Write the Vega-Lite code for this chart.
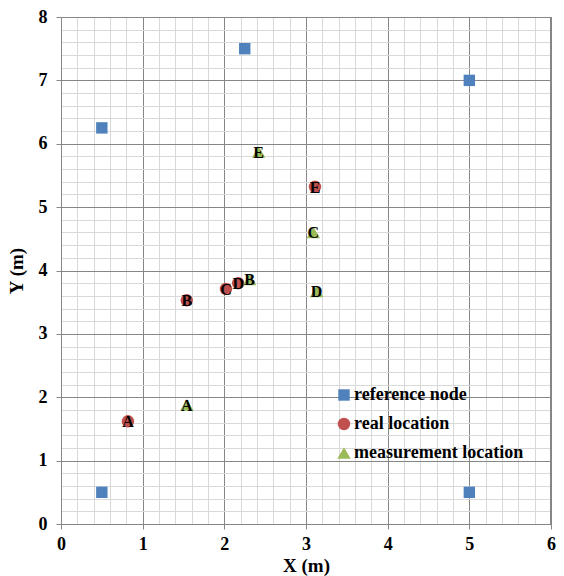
{
  "$schema": "https://vega.github.io/schema/vega-lite/v6.json",
  "width": 490,
  "height": 507,
  "autosize": {"type": "none"},
  "padding": {"left": 61, "top": 17, "right": 13, "bottom": 52},
  "background": "white",
  "config": {
    "font": "Liberation Serif",
    "view": {"stroke": null},
    "axis": {
      "labelFont": "Liberation Serif",
      "labelFontSize": 18,
      "labelFontWeight": "bold",
      "labelColor": "black",
      "titleFont": "Liberation Serif",
      "titleFontSize": 19,
      "titleFontWeight": "bold",
      "titleColor": "black",
      "domainColor": "#868686",
      "domainWidth": 1,
      "tickSize": 5,
      "gridWidth": 1,
      "gridOpacity": 1
    },
    "legend": {
      "labelFont": "Liberation Serif",
      "labelFontSize": 18,
      "labelFontWeight": "bold",
      "labelColor": "black",
      "labelLimit": 400
    }
  },
  "data": {
    "values": [
      {"type": "reference node", "label": "", "x": 0.5, "y": 0.5},
      {"type": "reference node", "label": "", "x": 0.5, "y": 6.25},
      {"type": "reference node", "label": "", "x": 2.25, "y": 7.5},
      {"type": "reference node", "label": "", "x": 5, "y": 7},
      {"type": "reference node", "label": "", "x": 5, "y": 0.5},
      {"type": "real location", "label": "A", "x": 0.82, "y": 1.62},
      {"type": "real location", "label": "B", "x": 1.54, "y": 3.53},
      {"type": "real location", "label": "C", "x": 2.02, "y": 3.71},
      {"type": "real location", "label": "D", "x": 2.17, "y": 3.8},
      {"type": "real location", "label": "E", "x": 3.11, "y": 5.32},
      {"type": "measurement location", "label": "A", "x": 1.54, "y": 1.88},
      {"type": "measurement location", "label": "B", "x": 2.31, "y": 3.86},
      {"type": "measurement location", "label": "C", "x": 3.09, "y": 4.6},
      {"type": "measurement location", "label": "D", "x": 3.13, "y": 3.67},
      {"type": "measurement location", "label": "E", "x": 2.42, "y": 5.87}
    ]
  },
  "encoding": {
    "x": {
      "field": "x",
      "type": "quantitative",
      "scale": {"domain": [0, 6], "nice": false, "zero": false},
      "axis": {
        "title": "X (m)",
        "titlePadding": 3,
        "labelPadding": 6,
        "values": [0, 0.2, 0.4, 0.6, 0.8, 1, 1.2, 1.4, 1.6, 1.8, 2, 2.2, 2.4, 2.6, 2.8, 3, 3.2, 3.4, 3.6, 3.8, 4, 4.2, 4.4, 4.6, 4.8, 5, 5.2, 5.4, 5.6, 5.8, 6],
        "labelExpr": "datum.value % 1 === 0 ? format(datum.value, 'd') : ''",
        "grid": true,
        "gridColor": {"condition": {"test": "datum.value % 1 === 0", "value": "#868686"}, "value": "#d9d9d9"},
        "tickColor": {"condition": {"test": "datum.value % 1 === 0", "value": "#868686"}, "value": "transparent"},
        "labelFlush": false,
        "labelOverlap": false
      }
    },
    "y": {
      "field": "y",
      "type": "quantitative",
      "scale": {"domain": [0, 8], "nice": false, "zero": false},
      "axis": {
        "title": "Y (m)",
        "titlePadding": 12,
        "labelPadding": 9,
        "values": [0, 0.2, 0.4, 0.6, 0.8, 1, 1.2, 1.4, 1.6, 1.8, 2, 2.2, 2.4, 2.6, 2.8, 3, 3.2, 3.4, 3.6, 3.8, 4, 4.2, 4.4, 4.6, 4.8, 5, 5.2, 5.4, 5.6, 5.8, 6, 6.2, 6.4, 6.6, 6.8, 7, 7.2, 7.4, 7.6, 7.8, 8],
        "labelExpr": "datum.value % 1 === 0 ? format(datum.value, 'd') : ''",
        "grid": true,
        "gridColor": {"condition": {"test": "datum.value % 1 === 0", "value": "#868686"}, "value": "#d9d9d9"},
        "tickColor": {"condition": {"test": "datum.value % 1 === 0", "value": "#868686"}, "value": "transparent"},
        "labelFlush": false,
        "labelOverlap": false
      }
    }
  },
  "layer": [
    {
      "mark": {"type": "rule", "color": "#868686", "strokeWidth": 1},
      "encoding": {
        "x": {"datum": 6},
        "y": null
      }
    },
    {
      "mark": {"type": "point", "filled": true, "opacity": 1},
      "encoding": {
        "shape": {
          "field": "type",
          "type": "nominal",
          "scale": {"domain": ["reference node", "real location", "measurement location"], "range": ["square", "circle", "triangle-up"]},
          "legend": {
            "title": null,
            "orient": "none",
            "legendX": 274,
            "legendY": 369,
            "labelOffset": 1,
            "rowPadding": 11,
            "symbolStrokeWidth": 0
          }
        },
        "color": {
          "field": "type",
          "type": "nominal",
          "scale": {"domain": ["reference node", "real location", "measurement location"], "range": ["#4F81BD", "#C0504D", "#9BBB59"]},
          "legend": {
            "title": null,
            "orient": "none",
            "legendX": 274,
            "legendY": 369,
            "labelOffset": 1,
            "rowPadding": 11,
            "symbolStrokeWidth": 0
          }
        },
        "size": {
          "field": "type",
          "type": "nominal",
          "scale": {"domain": ["reference node", "real location", "measurement location"], "range": [130, 180, 190]},
          "legend": {
            "title": null,
            "orient": "none",
            "legendX": 274,
            "legendY": 369,
            "labelOffset": 1,
            "rowPadding": 11,
            "symbolStrokeWidth": 0
          }
        }
      }
    },
    {
      "transform": [{"filter": "datum.label !== ''"}],
      "mark": {"type": "text", "font": "Liberation Serif", "fontSize": 16, "fontWeight": "bold", "color": "black", "baseline": "middle", "align": "center", "dy": 1},
      "encoding": {
        "text": {"field": "label"}
      }
    }
  ]
}
